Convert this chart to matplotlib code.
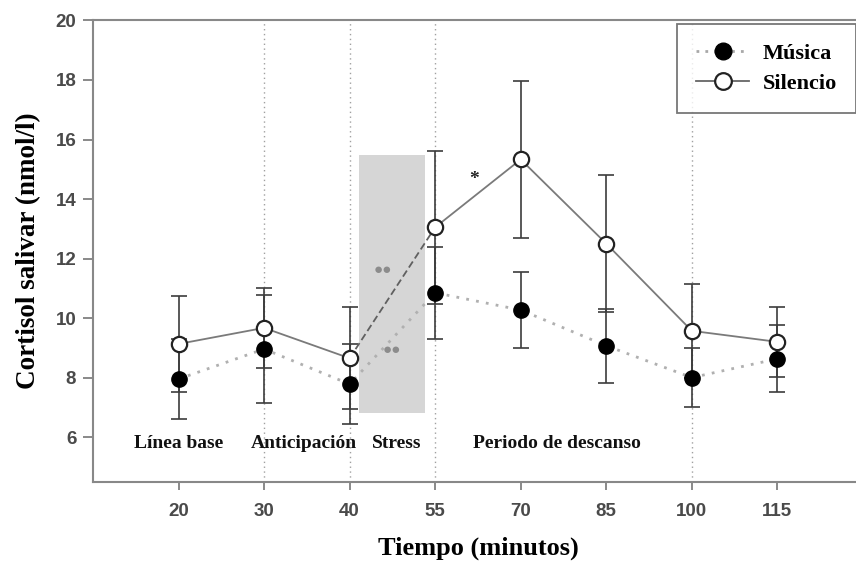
import numpy as np
import matplotlib
matplotlib.use("Agg")
import matplotlib.pyplot as plt
from matplotlib.lines import Line2D

# tiempo de muestreo (minutos) y cortisol salival medio +/- error
tiempos = ["20", "30", "40", "55", "70", "85", "100", "115"]
musica = [7.95, 8.96, 7.78, 10.85, 10.27, 9.07, 8.0, 8.63]
musica_err = [1.35, 1.8, 1.35, 1.55, 1.29, 1.25, 1.0, 1.12]
silencio = [9.13, 9.67, 8.65, 13.05, 15.33, 12.5, 9.57, 9.2]
silencio_err = [1.6, 1.35, 1.72, 2.57, 2.65, 2.3, 1.57, 1.17]

fases = ["Línea base", "Anticipación", "Stress", "Periodo de descanso"]
fases_x = [1.0, 2.46, 3.55, 5.42]
separadores = [2, 3, 4, 7]
stress_x = (3.107, 3.88)
stress_y = (6.81, 15.48)

serif = ["Liberation Serif", "DejaVu Serif"]
sans = ["Liberation Sans", "DejaVu Sans"]

fig = plt.figure(figsize=(8.56, 5.61), dpi=100)
ax = fig.add_axes([0.1086, 0.1413, 0.8995, 0.8222])
x = np.arange(1, len(tiempos) + 1)

# periodo de stress
ax.fill_between(stress_x, stress_y[0], stress_y[1], color="#d6d6d6", zorder=0, lw=0)
for xv in separadores:
    ax.axvline(xv, color="#a0a0a0", ls=(0, (1, 2.5)), lw=1.0, zorder=0.5)

# barras de error
ax.errorbar(x, silencio, yerr=silencio_err, fmt="none", ecolor="#3c3c3c",
            elinewidth=1.2, capsize=6, capthick=1.2, zorder=2)
ax.errorbar(x, musica, yerr=musica_err, fmt="none", ecolor="#3c3c3c",
            elinewidth=1.2, capsize=6, capthick=1.2, zorder=2)

# lineas
ax.plot(x, musica, color="#b0b0b0", ls=(0, (1, 2.6)), lw=2.0, zorder=3)
ax.plot(x[:3], silencio[:3], color="#7a7a7a", lw=1.3, zorder=3)
ax.plot(x[3:], silencio[3:], color="#7a7a7a", lw=1.3, zorder=3)
ax.plot(x[2:4], silencio[2:4], color="#606060", ls=(0, (4, 2)), lw=1.3, zorder=3)

# puntos
ax.plot(x, musica, ls="none", marker="o", ms=11, mfc="black", mec="black", zorder=4)
ax.plot(x, silencio, ls="none", marker="o", ms=11, mfc="white", mec="#222222",
        mew=1.6, zorder=5)

# significancia
ax.text(3.39, 11.6, "\u25cf\u25cf", color="#8c8c8c", fontsize=11, ha="center",
        va="center", family=sans)
ax.text(3.49, 8.93, "\u25cf\u25cf", color="#8c8c8c", fontsize=11, ha="center",
        va="center", family=sans)
ax.text(4.45, 14.65, "*", color="#222222", fontsize=14, ha="center", va="center",
        family=serif, fontweight="bold")

for nombre, xf in zip(fases, fases_x):
    ax.text(xf, 5.8, nombre, ha="center", va="center", fontsize=14,
            family=serif, fontweight="bold", color="#111111")

ax.set_xlim(0, 9)
ax.set_ylim(4.5, 20)
ax.set_xticks(x)
ax.set_xticklabels(tiempos)
ax.set_yticks(np.arange(6, 21, 2))
for lab in ax.get_xticklabels() + ax.get_yticklabels():
    lab.set_family(sans)
    lab.set_fontweight("bold")
    lab.set_color("#4a4a4a")
    lab.set_fontsize(13.5)
ax.tick_params(axis="both", direction="out", color="#808080", width=1.3)
ax.tick_params(axis="y", length=7, pad=5)
ax.tick_params(axis="x", length=6, pad=9)
for side in ["left", "bottom", "top", "right"]:
    ax.spines[side].set_color("#888888")
    ax.spines[side].set_linewidth(1.5)

ax.set_ylabel("Cortisol salivar (nmol/l)", family=serif, fontweight="bold",
              fontsize=19.5, labelpad=10)
ax.set_xlabel("Tiempo (minutos)", family=serif, fontweight="bold",
              fontsize=19, labelpad=12)

handles = [
    Line2D([], [], color="#a8a8a8", ls=(0, (1, 2.2)), lw=2.0, marker="o", ms=12,
           mfc="black", mec="black"),
    Line2D([], [], color="#666666", lw=1.3, marker="o", ms=12, mfc="white",
           mec="#222222", mew=1.6),
]
leg = fig.legend(handles, ["Música", "Silencio"], loc="upper left",
                 bbox_to_anchor=(0.791, 0.957), frameon=True, fancybox=False,
                 prop={"family": serif, "weight": "bold", "size": 16},
                 handlelength=2.4, borderpad=0.85, labelspacing=0.45,
                 borderaxespad=0, handletextpad=0.6)
leg.get_frame().set_edgecolor("#555555")
leg.get_frame().set_linewidth(1.3)
leg.set_zorder(10)

fig.savefig("out.png", dpi=100)
